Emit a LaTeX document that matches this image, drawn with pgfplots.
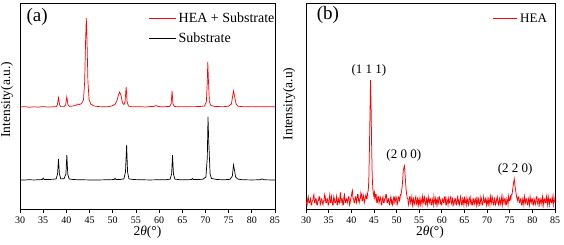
\documentclass[border=0pt]{standalone}
\usepackage{pgfplots}
\pgfplotsset{compat=1.18}
\usepackage{fontspec}
\setmainfont{Liberation Serif}
\definecolor{xrdred}{RGB}{255,0,0}
\begin{document}
\begin{tikzpicture}
\path[use as bounding box] (0pt,0pt) rectangle (564pt,245pt);
\pgfplotsset{
  myax/.style={
    scale only axis, height=206pt,
    xmin=30, xmax=85, ymin=0, ymax=1,
    xtick={30,35,...,85}, ytick=\empty,
    xtick pos=bottom, tick align=outside,
    major tick length=4pt,
    axis line style={line width=0.9pt},
    every tick/.style={black, line width=0.8pt},
    /pgf/number format/assume math mode=true,
    tick label style={font=\fontsize{10}{12}\selectfont},
    label style={font=\fontsize{13.5}{15}\selectfont},
    xlabel={2\textit{θ}(°)},
    legend cell align=left,
    clip=true,
  }
}
% ---------- (a) ----------
\begin{axis}[myax, at={(20pt,36pt)}, anchor=south west, width=255pt,
  ylabel={Intensity(a.u.)},
  ylabel style={at={(axis description cs:-0.051,0.53)}, anchor=center},
  xlabel style={at={(axis description cs:0.5,-0.112)}, anchor=center},
  legend style={at={(rel axis cs:0.505,0.965)}, anchor=north west, draw=none, fill=none,
    font=\fontsize{14}{15}\selectfont, row sep=5pt, inner sep=0pt},
  legend image code/.code={\draw[mark repeat=2,mark phase=2,#1] plot coordinates {(0pt,0pt) (13pt,0pt) (27pt,0pt)};},
]
\addplot[color=xrdred, line width=0.7pt] coordinates {
(30,0.495) (31,0.497) (32,0.494) (33,0.496) (34,0.495) (35,0.497) (36,0.495) (37,0.496)
(37.8,0.497) (38.05,0.505) (38.3,0.540) (38.55,0.505) (38.8,0.497) (39.5,0.497)
(39.85,0.505) (40.1,0.545) (40.35,0.505) (40.7,0.498) (41.5,0.500) (42.2,0.505)
(42.5,0.510) (42.8,0.507) (43.3,0.512) (43.7,0.53) (43.95,0.62) (44.15,0.82) (44.3,0.927)
(44.45,0.82) (44.65,0.62) (44.9,0.53) (45.3,0.508) (46,0.500) (47,0.497) (48,0.496)
(49,0.497) (49.8,0.500) (50.5,0.508) (50.9,0.525) (51.2,0.552) (51.5,0.568) (51.8,0.55)
(52.1,0.515) (52.4,0.507) (52.65,0.52) (52.9,0.592) (53.1,0.52) (53.4,0.500) (54,0.497)
(55,0.496) (56,0.497) (57,0.495) (58,0.497) (58.8,0.498) (59.3,0.502) (59.8,0.498)
(60.5,0.496) (61.5,0.497) (62.3,0.498) (62.6,0.51) (62.8,0.573) (63.0,0.51) (63.3,0.498)
(64,0.496) (65,0.497) (66,0.496) (67,0.497) (68,0.497) (69,0.498) (69.8,0.50) (70.2,0.52)
(70.4,0.62) (70.5,0.714) (70.65,0.62) (70.85,0.52) (71.2,0.502) (72,0.498) (73,0.497)
(74,0.497) (75,0.499) (75.6,0.51) (75.85,0.545) (76.05,0.573) (76.3,0.545) (76.6,0.51)
(77,0.499) (78,0.497) (79,0.496) (80,0.497) (81,0.496) (82,0.497) (83,0.496) (84,0.497) (85,0.496)
};
\addlegendentry{HEA + Substrate}
\addplot[color=black, line width=0.7pt] coordinates {
(30,0.141) (31,0.141) (32,0.142) (33,0.141) (34,0.142) (34.8,0.143) (35.0,0.150) (35.2,0.143)
(36,0.143) (37,0.144) (37.8,0.146) (38.1,0.17) (38.3,0.243) (38.5,0.17) (38.8,0.146)
(39.5,0.147) (39.9,0.17) (40.1,0.262) (40.3,0.17) (40.6,0.146) (41.5,0.143) (43,0.142)
(45,0.141) (47,0.141) (49,0.142) (50.3,0.143) (50.5,0.149) (50.7,0.143) (51.5,0.143)
(52.4,0.146) (52.75,0.18) (53.0,0.311) (53.2,0.18) (53.5,0.146) (54.5,0.143) (56,0.142)
(58,0.141) (60,0.142) (61.5,0.142) (62.4,0.145) (62.7,0.17) (62.9,0.262) (63.1,0.17)
(63.4,0.145) (64.5,0.142) (66,0.142) (67.0,0.143) (67.2,0.148) (67.4,0.143) (68.5,0.143)
(69.5,0.145) (70.1,0.155) (70.4,0.25) (70.55,0.447) (70.7,0.33) (70.8,0.28) (71.0,0.17)
(71.3,0.148) (72.5,0.143) (74,0.142) (75.3,0.144) (75.8,0.16) (76.05,0.214) (76.25,0.19)
(76.5,0.155) (77,0.145) (78,0.142) (80,0.141) (81.8,0.142) (82.2,0.146) (82.6,0.142)
(84,0.141) (85,0.141)
};
\addlegendentry{Substrate}
\node[font=\fontsize{19}{20}\selectfont] at (rel axis cs:0.067,0.932) {(a)};
\end{axis}
% ---------- (b) ----------
\begin{axis}[myax, at={(306pt,36pt)}, anchor=south west, width=249pt,
  ylabel={Intensity(a.u)},
  ylabel style={at={(axis description cs:-0.068,0.51)}, anchor=center},
  xlabel style={at={(axis description cs:0.498,-0.112)}, anchor=center},
]
\addplot[color=xrdred, line width=0.75pt] coordinates {
(30,0.04) (30.125,0.03) (30.25,0.02) (30.375,0.05) (30.5,0.06) (30.625,0.03) (30.75,0.03) (30.875,0.04)
(31,0.05) (31.125,0.02) (31.25,0.02) (31.375,0.04) (31.5,0.04) (31.625,0.06) (31.75,0.07) (31.875,0.03)
(32,0.03) (32.125,0.05) (32.25,0.05) (32.375,0.02) (32.5,0.02) (32.625,0.04) (32.75,0.04) (32.875,0.06)
(33,0.06) (33.125,0.02) (33.25,0.03) (33.375,0.05) (33.5,0.05) (33.625,0.03) (33.75,0.02) (33.875,0.04)
(34,0.04) (34.125,0.07) (34.25,0.06) (34.375,0.03) (34.5,0.03) (34.625,0.05) (34.75,0.05) (34.875,0.02)
(35,0.02) (35.125,0.05) (35.25,0.07) (35.375,0.03) (35.5,0.03) (35.625,0.06) (35.75,0.04) (35.875,0.02)
(36,0.02) (36.125,0.06) (36.25,0.05) (36.375,0.03) (36.5,0.03) (36.625,0.04) (36.75,0.06) (36.875,0.02)
(37,0.02) (37.125,0.05) (37.25,0.04) (37.375,0.03) (37.5,0.06) (37.625,0.08) (37.75,0.03) (37.875,0.05)
(38,0.05) (38.125,0.02) (38.25,0.02) (38.375,0.06) (38.5,0.07) (38.625,0.03) (38.75,0.03) (38.875,0.05)
(39,0.05) (39.125,0.03) (39.25,0.04) (39.375,0.06) (39.5,0.06) (39.625,0.02) (39.75,0.03) (39.875,0.05)
(40,0.06) (40.125,0.08) (40.25,0.09) (40.375,0.05) (40.5,0.05) (40.625,0.03) (40.75,0.03) (40.875,0.06)
(41,0.06) (41.125,0.03) (41.25,0.04) (41.375,0.07) (41.5,0.07) (41.625,0.04) (41.75,0.03) (41.875,0.05)
(42,0.05) (42.125,0.08) (42.25,0.07) (42.375,0.04) (42.5,0.04) (42.625,0.07) (42.75,0.06) (42.875,0.03)
(43,0.04) (43.125,0.06) (43.25,0.07) (43.375,0.05) (43.5,0.05) (43.625,0.08) (43.75,0.09) (43.875,0.14)
(44,0.28) (44.125,0.45) (44.25,0.626) (44.375,0.50) (44.5,0.30) (44.625,0.16) (44.75,0.10) (44.875,0.08)
(45,0.06) (45.125,0.08) (45.25,0.05) (45.375,0.07) (45.5,0.07) (45.625,0.03) (45.75,0.03) (45.875,0.06)
(46,0.06) (46.125,0.03) (46.25,0.04) (46.375,0.06) (46.5,0.05) (46.625,0.02) (46.75,0.02) (46.875,0.05)
(47,0.06) (47.125,0.03) (47.25,0.03) (47.375,0.05) (47.5,0.05) (47.625,0.07) (47.75,0.07) (47.875,0.03)
(48,0.03) (48.125,0.05) (48.25,0.05) (48.375,0.02) (48.5,0.02) (48.625,0.05) (48.75,0.06) (48.875,0.03)
(49,0.04) (49.125,0.02) (49.25,0.03) (49.375,0.06) (49.5,0.06) (49.625,0.03) (49.75,0.04) (49.875,0.06)
(50,0.05) (50.125,0.02) (50.25,0.03) (50.375,0.06) (50.5,0.06) (50.625,0.04) (50.75,0.05) (50.875,0.07)
(51,0.07) (51.125,0.09) (51.25,0.11) (51.375,0.15) (51.5,0.19) (51.625,0.20) (51.75,0.209) (51.875,0.17)
(52,0.13) (52.125,0.09) (52.25,0.07) (52.375,0.05) (52.5,0.05) (52.625,0.02) (52.75,0.03) (52.875,0.06)
(53,0.06) (53.125,0.03) (53.25,0.04) (53.375,0.06) (53.5,0.02) (53.625,0.04) (53.75,0.05) (53.875,0.02)
(54,0.03) (54.125,0.05) (54.25,0.06) (54.375,0.03) (54.5,0.02) (54.625,0.05) (54.75,0.04) (54.875,0.02)
(55,0.05) (55.125,0.03) (55.25,0.02) (55.375,0.05) (55.5,0.04) (55.625,0.02) (55.75,0.06) (55.875,0.04)
(56,0.03) (56.125,0.06) (56.25,0.05) (56.375,0.02) (56.5,0.02) (56.625,0.05) (56.75,0.04) (56.875,0.02)
(57,0.06) (57.125,0.04) (57.25,0.03) (57.375,0.05) (57.5,0.05) (57.625,0.02) (57.75,0.02) (57.875,0.05)
(58,0.04) (58.125,0.02) (58.25,0.06) (58.375,0.04) (58.5,0.03) (58.625,0.05) (58.75,0.02) (58.875,0.04)
(59,0.05) (59.125,0.02) (59.25,0.03) (59.375,0.06) (59.5,0.06) (59.625,0.03) (59.75,0.04) (59.875,0.02)
(60,0.02) (60.125,0.05) (60.25,0.05) (60.375,0.03) (60.5,0.03) (60.625,0.06) (60.75,0.06) (60.875,0.02)
(61,0.02) (61.125,0.05) (61.25,0.04) (61.375,0.02) (61.5,0.05) (61.625,0.03) (61.75,0.03) (61.875,0.06)
(62,0.06) (62.125,0.03) (62.25,0.02) (62.375,0.05) (62.5,0.04) (62.625,0.02) (62.75,0.03) (62.875,0.05)
(63,0.05) (63.125,0.02) (63.25,0.02) (63.375,0.05) (63.5,0.06) (63.625,0.03) (63.75,0.04) (63.875,0.02)
(64,0.03) (64.125,0.06) (64.25,0.05) (64.375,0.02) (64.5,0.02) (64.625,0.05) (64.75,0.04) (64.875,0.02)
(65,0.06) (65.125,0.03) (65.25,0.03) (65.375,0.05) (65.5,0.02) (65.625,0.04) (65.75,0.05) (65.875,0.02)
(66,0.03) (66.125,0.05) (66.25,0.06) (66.375,0.03) (66.5,0.04) (66.625,0.02) (66.75,0.02) (66.875,0.05)
(67,0.05) (67.125,0.02) (67.25,0.03) (67.375,0.05) (67.5,0.04) (67.625,0.02) (67.75,0.06) (67.875,0.03)
(68,0.02) (68.125,0.05) (68.25,0.04) (68.375,0.02) (68.5,0.03) (68.625,0.06) (68.75,0.05) (68.875,0.02)
(69,0.02) (69.125,0.04) (69.25,0.06) (69.375,0.03) (69.5,0.03) (69.625,0.05) (69.75,0.04) (69.875,0.02)
(70,0.05) (70.125,0.03) (70.25,0.02) (70.375,0.05) (70.5,0.04) (70.625,0.02) (70.75,0.06) (70.875,0.04)
(71,0.03) (71.125,0.06) (71.25,0.05) (71.375,0.02) (71.5,0.02) (71.625,0.05) (71.75,0.04) (71.875,0.02)
(72,0.03) (72.125,0.05) (72.25,0.06) (72.375,0.03) (72.5,0.02) (72.625,0.04) (72.75,0.05) (72.875,0.02)
(73,0.03) (73.125,0.06) (73.25,0.04) (73.375,0.02) (73.5,0.06) (73.625,0.04) (73.75,0.03) (73.875,0.05)
(74,0.05) (74.125,0.02) (74.25,0.02) (74.375,0.05) (74.5,0.04) (74.625,0.02) (74.75,0.06) (74.875,0.04)
(75,0.04) (75.125,0.06) (75.25,0.05) (75.375,0.07) (75.5,0.07) (75.625,0.09) (75.75,0.11) (75.875,0.13)
(76,0.146) (76.125,0.12) (76.25,0.10) (76.375,0.08) (76.5,0.06) (76.625,0.05) (76.75,0.04) (76.875,0.06)
(77,0.06) (77.125,0.03) (77.25,0.03) (77.375,0.05) (77.5,0.05) (77.625,0.02) (77.75,0.02) (77.875,0.05)
(78,0.04) (78.125,0.02) (78.25,0.06) (78.375,0.04) (78.5,0.03) (78.625,0.05) (78.75,0.05) (78.875,0.02)
(79,0.02) (79.125,0.05) (79.25,0.04) (79.375,0.02) (79.5,0.06) (79.625,0.04) (79.75,0.03) (79.875,0.05)
(80,0.05) (80.125,0.02) (80.25,0.02) (80.375,0.05) (80.5,0.04) (80.625,0.02) (80.75,0.03) (80.875,0.06)
(81,0.06) (81.125,0.03) (81.25,0.02) (81.375,0.05) (81.5,0.05) (81.625,0.02) (81.75,0.03) (81.875,0.05)
(82,0.04) (82.125,0.02) (82.25,0.06) (82.375,0.04) (82.5,0.02) (82.625,0.05) (82.75,0.05) (82.875,0.03)
(83,0.03) (83.125,0.06) (83.25,0.04) (83.375,0.02) (83.5,0.06) (83.625,0.04) (83.75,0.02) (83.875,0.05)
(84,0.05) (84.125,0.03) (84.25,0.03) (84.375,0.06) (84.5,0.04) (84.625,0.02) (84.75,0.06) (84.875,0.04)
(85,0.03)
};
\node[anchor=west, inner sep=0pt, font=\fontsize{13}{14}\selectfont, text=black] at (rel axis cs:0.751,0.925)
  {{\color{xrdred}\rule[0.3em]{24pt}{0.8pt}}\hspace{3pt}{\color{black}HEA}};
\node[font=\fontsize{19}{20}\selectfont] at (rel axis cs:0.088,0.942) {(b)};
\node[font=\fontsize{13}{14}\selectfont] at (axis cs:43.9,0.675) {(1 1 1)};
\node[font=\fontsize{13}{14}\selectfont] at (axis cs:51.6,0.262) {(2 0 0)};
\node[font=\fontsize{13}{14}\selectfont] at (axis cs:76.2,0.19) {(2 2 0)};
\end{axis}
\end{tikzpicture}
\end{document}
